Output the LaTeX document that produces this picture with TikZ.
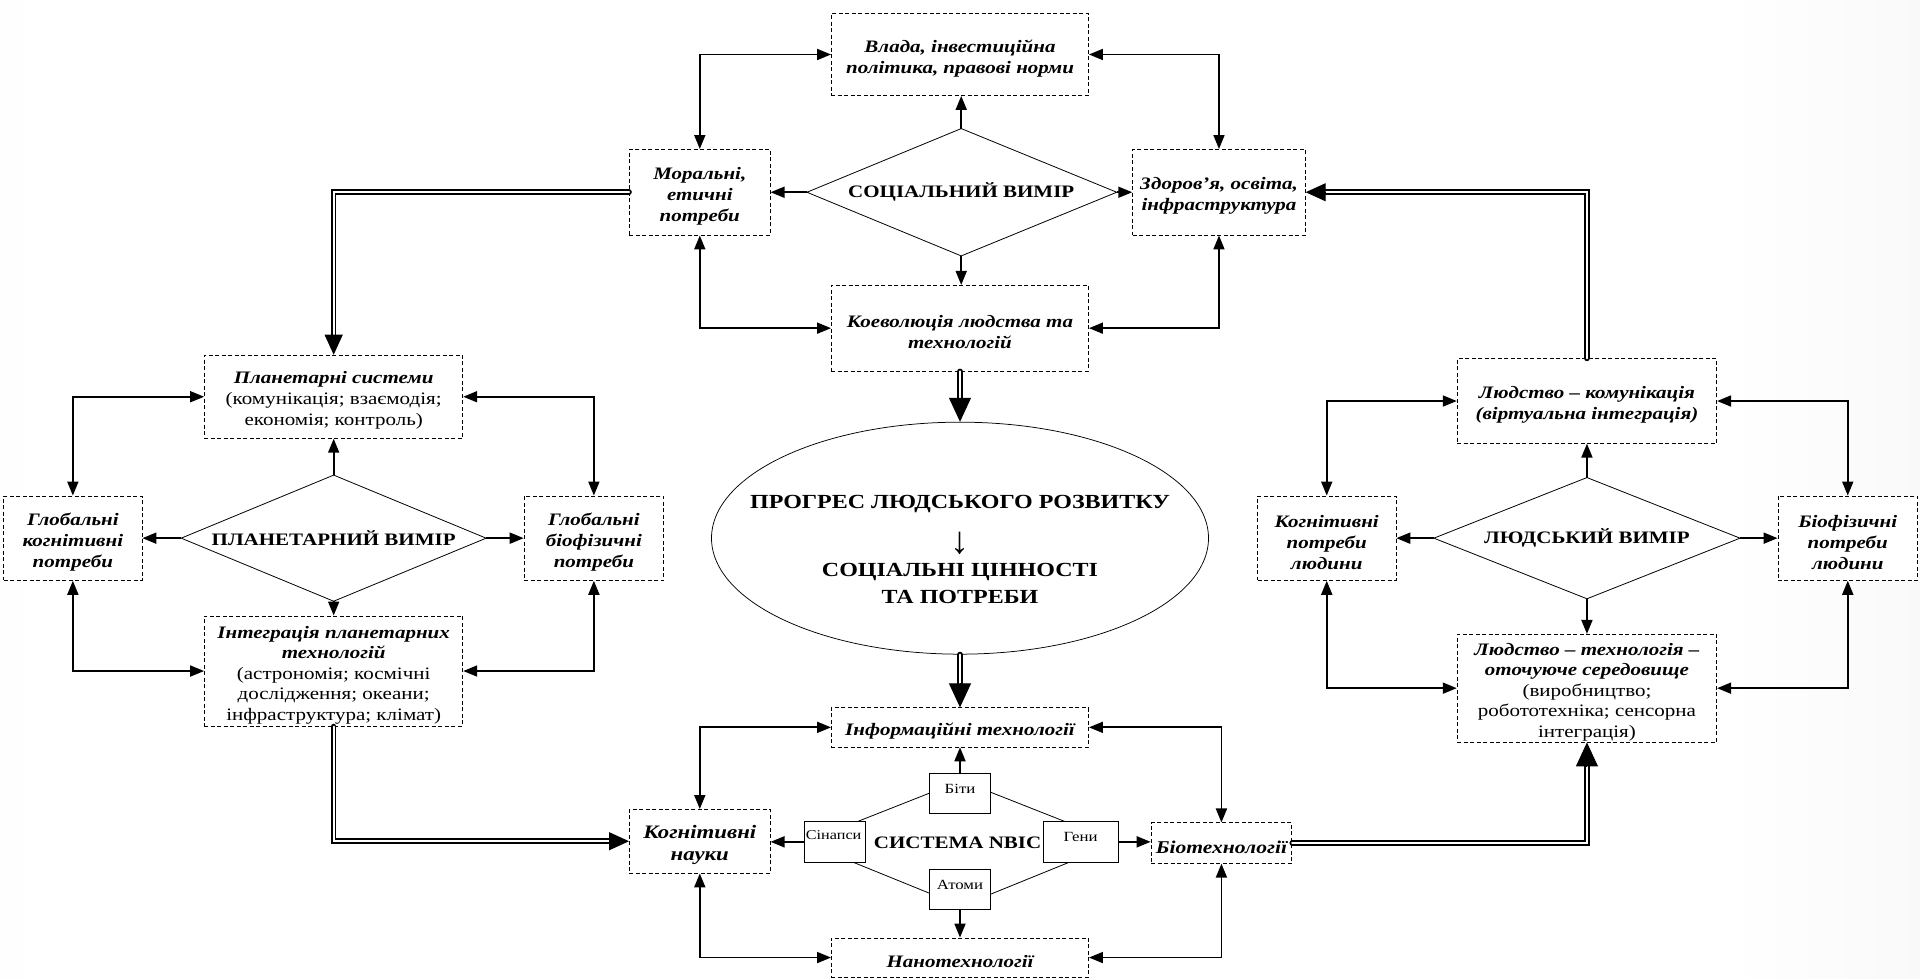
\documentclass[tikz,border=0pt]{standalone}
\usepackage{fontspec}
\setmainfont{Liberation Serif}[FakeStretch=1.2]
\newfontfamily\arrowfont{Liberation Serif}
\usetikzlibrary{arrows.meta,fit,shapes.geometric}
\definecolor{bgg}{gray}{0.86}
\pgfdeclarehorizontalshading{bgshade}{100bp}{color(0bp)=(bgg); color(26bp)=(white); color(70bp)=(white); color(100bp)=(bgg)}
% #1 label style, #2 name, #3 fit corners, #4 text
\newcommand{\myboxnode}[4][]{%
  \node[box, fit={#3}] (#2) {};
  \node[lbl, #1] (#2L) at ([yshift=-4pt]#2.center) {#4};}
\begin{document}
\begin{tikzpicture}[x=1.2245pt,y=-1.2245pt,
  >={Triangle[length=14pt,width=11pt]},
  box/.style={draw, dash pattern=on 4pt off 2.5pt, line width=0.75pt, fill=white, inner sep=0pt},
  lbl/.style={inner sep=0pt, align=center, font=\fontsize{17.5}{21}\selectfont\bfseries\itshape},
  tight/.style={font=\fontsize{17.5}{20.6}\selectfont\bfseries\itshape},
  sbox/.style={draw, line width=0.8pt, fill=white, inner sep=0pt, align=center, font=\fontsize{14}{15}\selectfont},
  slab/.style={inner sep=0pt, font=\fontsize{13.5}{15}\selectfont},
  dlabel/.style={font=\fontsize{17.5}{21}\selectfont\bfseries, inner sep=0pt},
  elab/.style={font=\fontsize{20}{24}\selectfont\bfseries, inner sep=0pt},
  dia/.style={line width=0.8pt},
  conn/.style={line width=1.8pt},
  dbl/.style={double=white, double distance=2pt, line width=1.8pt, line cap=round},
  bigtip/.style={line width=1pt, -{Triangle[length=20pt,width=18pt]}},
  hugetip/.style={line width=1pt, -{Triangle[length=24pt,width=22pt]}}
]
\shade[shading=bgshade] (0,0) rectangle (1568,799);
\useasboundingbox (0,0) rectangle (1568,799);

% ---------- social ----------
\coordinate (sT) at (785,105); \coordinate (sR) at (912,157);
\coordinate (sB) at (785,209); \coordinate (sL) at (659,157);
\draw[dia, fill=white] (sT) -- (sR) -- (sB) -- (sL) -- cycle;
\node[dlabel] (sLab) at (785,157) {СОЦІАЛЬНИЙ ВИМІР};
\myboxnode{vlada}{(679,11) (889,78)}{Влада, інвестиційна\\політика, правові норми}
\myboxnode{moral}{(514,122) (629,192)}{Моральні,\\етичні\\потреби}
\myboxnode{health}{(925,122) (1066,192)}{Здоров'я,~освіта,\\інфраструктура}
\myboxnode{koev}{(679,233) (889,303)}{Коеволюція людства та\\технологій}

% ---------- planetary ----------
\coordinate (pT) at (272.5,388); \coordinate (pR) at (397,439.5);
\coordinate (pB) at (272.5,491); \coordinate (pL) at (148,439.5);
\draw[dia, fill=white] (pT) -- (pR) -- (pB) -- (pL) -- cycle;
\node[dlabel] (pLab) at (272.5,439.5) {ПЛАНЕТАРНИЙ ВИМІР};
\myboxnode{plan}{(167,290) (378,358)}{Планетарні системи\\\normalfont(комунікація; взаємодія;\\\normalfont економія; контроль)}
\myboxnode{gcog}{(3,405) (116,474)}{Глобальні\\когнітивні\\потреби}
\myboxnode{gbio}{(428,405) (542,474)}{Глобальні\\біофізичні\\потреби}
\myboxnode[tight]{integ}{(167,503) (378,593)}{Інтеграція планетарних\\технологій\\\normalfont(астрономія; космічні\\\normalfont дослідження; океани;\\\normalfont інфраструктура; клімат)}

% ---------- human ----------
\coordinate (hT) at (1296,390); \coordinate (hR) at (1421,439.5);
\coordinate (hB) at (1296,489); \coordinate (hL) at (1171,439.5);
\draw[dia, fill=white] (hT) -- (hR) -- (hB) -- (hL) -- cycle;
\node[dlabel] (hLab) at (1296,439.5) {ЛЮДСЬКИЙ ВИМІР};
\myboxnode{lk}{(1190,293) (1402,362)}{Людство – комунікація\\(віртуальна інтеграція)}
\myboxnode{hcog}{(1027,405) (1140,474)}{Когнітивні\\потреби\\людини}
\myboxnode{hbio}{(1452,405) (1566,474)}{Біофізичні\\потреби\\людини}
\myboxnode[tight]{lt}{(1190,518) (1402,606)}{Людство – технологія –\\оточуюче середовище\\\normalfont(виробництво;\\\normalfont робототехніка; сенсорна\\\normalfont інтеграція)}

% ---------- centre ----------
\node[ellipse, draw, line width=0.75pt, fill=white, minimum width=497pt, minimum height=232pt, inner sep=0pt] (ell) at (784,439.5) {};
\node[elab] (e1) at (784,411.5) {ПРОГРЕС ЛЮДСЬКОГО РОЗВИТКУ};
\node[inner sep=0pt, font=\fontsize{38}{40}\selectfont\arrowfont] (e2) at (784,444) {↓};
\node[elab] (e3) at (784,467.5) {СОЦІАЛЬНІ ЦІННОСТІ};
\node[elab] (e4) at (784,487.5) {ТА ПОТРЕБИ};

% ---------- NBIC ----------
\coordinate (nT) at (785,637.5); \coordinate (nR) at (913,688);
\coordinate (nB) at (785,740); \coordinate (nL) at (657,688);
\draw[dia] (nT) -- (nR) -- (nB) -- (nL) -- cycle;
\node[dlabel] (nLab) at (782,688) {СИСТЕМА NBIC};
\myboxnode{info}{(679,578) (889,610)}{Інформаційні технології}
\myboxnode[font=\fontsize{19}{22}\selectfont\bfseries\itshape]{cogsci}{(514,661) (629,713)}{Когнітивні\\науки}
\myboxnode[font=\fontsize{18}{21}\selectfont\bfseries\itshape]{bio}{(940,672) (1055,705)}{Біотехнології}
\myboxnode{nano}{(679,766) (889,798)}{Нанотехнології}
\node[sbox, fit={(759,631.5) (809,664)}] (biti) {Біти};
\node[sbox, fit={(657,671) (707,704)}] (sin) {};
\node[slab, anchor=west] (sinLab) at (658,682) {Сінапси};
\node[sbox, fit={(852,671) (913,704)}] (geni) {Гени};
\node[sbox, fit={(759,710) (809,743)}] (atomy) {Атоми};

% ---------- connectors: social ----------
\draw[conn,<->] (vlada.west) -| (moral.north);
\draw[conn,<->] (vlada.east) -| (health.north);
\draw[conn,<->] (moral.south) |- (koev.west);
\draw[conn,<->] (health.south) |- (koev.east);
\draw[conn,->] (sT) -- (sT |- vlada.south);
\draw[conn,->] (sL) -- (sL -| moral.east);
\draw[conn,->] (sR) -- (sR -| health.west);
\draw[conn,->] (sB) -- (sB |- koev.north);

% ---------- connectors: planetary ----------
\draw[conn,<->] (plan.west) -| (gcog.north);
\draw[conn,<->] (plan.east) -| (gbio.north);
\draw[conn,<->] (gcog.south) |- (integ.west);
\draw[conn,<->] (gbio.south) |- (integ.east);
\draw[conn,->] (pT) -- (pT |- plan.south);
\draw[conn,->] (pL) -- (pL -| gcog.east);
\draw[conn,->] (pR) -- (pR -| gbio.west);
\draw[conn,->] (pB) -- (pB |- integ.north);

% ---------- connectors: human ----------
\draw[conn,<->] (lk.west) -| (hcog.north);
\draw[conn,<->] (lk.east) -| (hbio.north);
\draw[conn,<->] (hcog.south) |- (lt.west);
\draw[conn,<->] (hbio.south) |- (lt.east);
\draw[conn,->] (hT) -- (hT |- lk.south);
\draw[conn,->] (hL) -- (hL -| hcog.east);
\draw[conn,->] (hR) -- (hR -| hbio.west);
\draw[conn,->] (hB) -- (hB |- lt.north);

% ---------- connectors: NBIC ----------
\draw[conn,<->] (info.west) -| (cogsci.north);
\draw[conn,<->] (info.east) -| (bio.north);
\draw[conn,<->] (cogsci.south) |- (nano.west);
\draw[conn,<->] (bio.south) |- (nano.east);
\draw[conn,->] (biti.north) -- (biti.north |- info.south);
\draw[conn,->] (atomy.south) -- (atomy.south |- nano.north);
\draw[conn,->] (sin.west) -- (sin.west -| cogsci.east);
\draw[conn,->] (geni.east) -- (geni.east -| bio.west);

% ---------- double connectors ----------
\coordinate (d1) at ([yshift=20pt]plan.north);
\draw[dbl] (moral.west) -| (d1);
\draw[bigtip] (d1) -- (plan.north);

\coordinate (d2) at ([xshift=20pt]health.east);
\draw[dbl] (lk.north) |- (d2);
\draw[bigtip] (d2) -- (health.east);

\coordinate (d3) at ([yshift=24pt]ell.north);
\draw[dbl] (koev.south) -- (d3);
\draw[hugetip] (d3) -- (ell.north);

\coordinate (d4) at ([yshift=24pt]info.north);
\draw[dbl] (ell.south) -- (d4);
\draw[hugetip] (d4) -- (info.north);

\coordinate (d5) at ([xshift=-20pt]cogsci.west);
\draw[dbl] (integ.south) |- (d5);
\draw[bigtip] (d5) -- (cogsci.west);

\coordinate (d6) at ([yshift=-24pt]lt.south);
\draw[dbl] (bio.east) -| (d6);
\draw[hugetip] (d6) -- (lt.south);
\end{tikzpicture}
\end{document}
